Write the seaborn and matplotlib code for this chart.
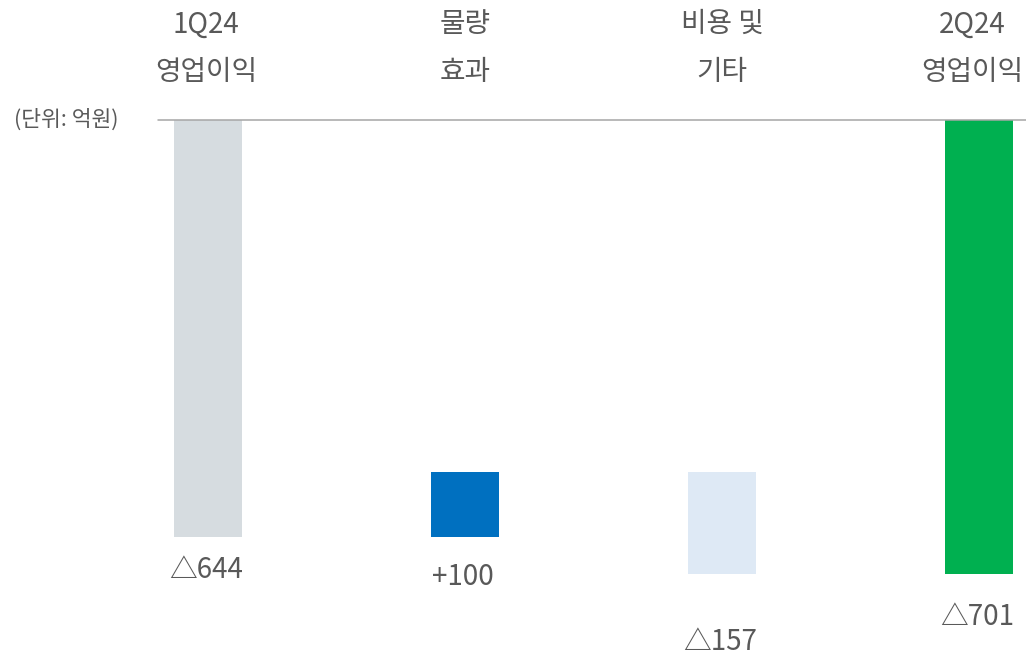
import matplotlib
matplotlib.use("Agg")
import matplotlib.pyplot as plt
import seaborn as sns
import numpy as np

categories = ["1Q24\n영업이익", "물량\n효과", "비용 및\n기타", "2Q24\n영업이익"]
changes = [-644, 100, -157, -701]
value_labels = ["△644", "+100", "△157", "△701"]
bar_colors = ["#D6DCE0", "#0070C0", "#DEE9F5", "#00B050"]
unit_label = "(단위: 억원)"

sns.set_theme(style="white")
plt.rcParams["font.family"] = ["Noto Sans CJK KR", "DejaVu Sans"]
text_color = "#595959"

# waterfall: first and last bars hang from zero, middle ones float
bottoms = [0]
running = changes[0]
for c in changes[1:-1]:
    bottoms.append(running)
    running += c
bottoms.append(0)
heights = list(changes)

fig = plt.figure(figsize=(10.26, 6.58), dpi=100)
ax = fig.add_axes([0, 0, 1, 1])

sns.barplot(x=categories, y=heights, bottom=bottoms, width=0.265,
            color=bar_colors[0], ax=ax)
for patch, col in zip(ax.patches, bar_colors):
    patch.set_facecolor(col)
    patch.set_edgecolor("none")

ax.set_xlim(-0.809, 3.183)
ax.set_ylim(-831, 185.3)
ax.axhline(0, xmin=0.154, xmax=1, color="#A6A6A6", lw=1.1)

# category labels on top (last one nudged left to stay inside)
cat_shift = [-2, 0, 0, -7]
for i, cat in enumerate(categories):
    ax.annotate(cat, (i, 0), xytext=(cat_shift[i], 72), textcoords="offset pixels",
                ha="center", va="center", fontsize=20, color=text_color,
                linespacing=1.75, fontweight="light")

# value labels under bars
label_offsets = [33, 40, 68, 43]
for i, (lab, off) in enumerate(zip(value_labels, label_offsets)):
    low = min(bottoms[i], bottoms[i] + heights[i])
    ax.annotate(lab, (i, low), xytext=(-2, -off), textcoords="offset pixels",
                ha="center", va="center", fontsize=20, color=text_color,
                fontweight="light")

ax.annotate(unit_label, (0, 0), xycoords=("figure pixels", "data"),
            xytext=(66, 0), textcoords="offset pixels",
            ha="center", va="center", fontsize=15.5, color=text_color,
            fontweight="light")

ax.axis("off")
fig.savefig("out.png", dpi=100)
